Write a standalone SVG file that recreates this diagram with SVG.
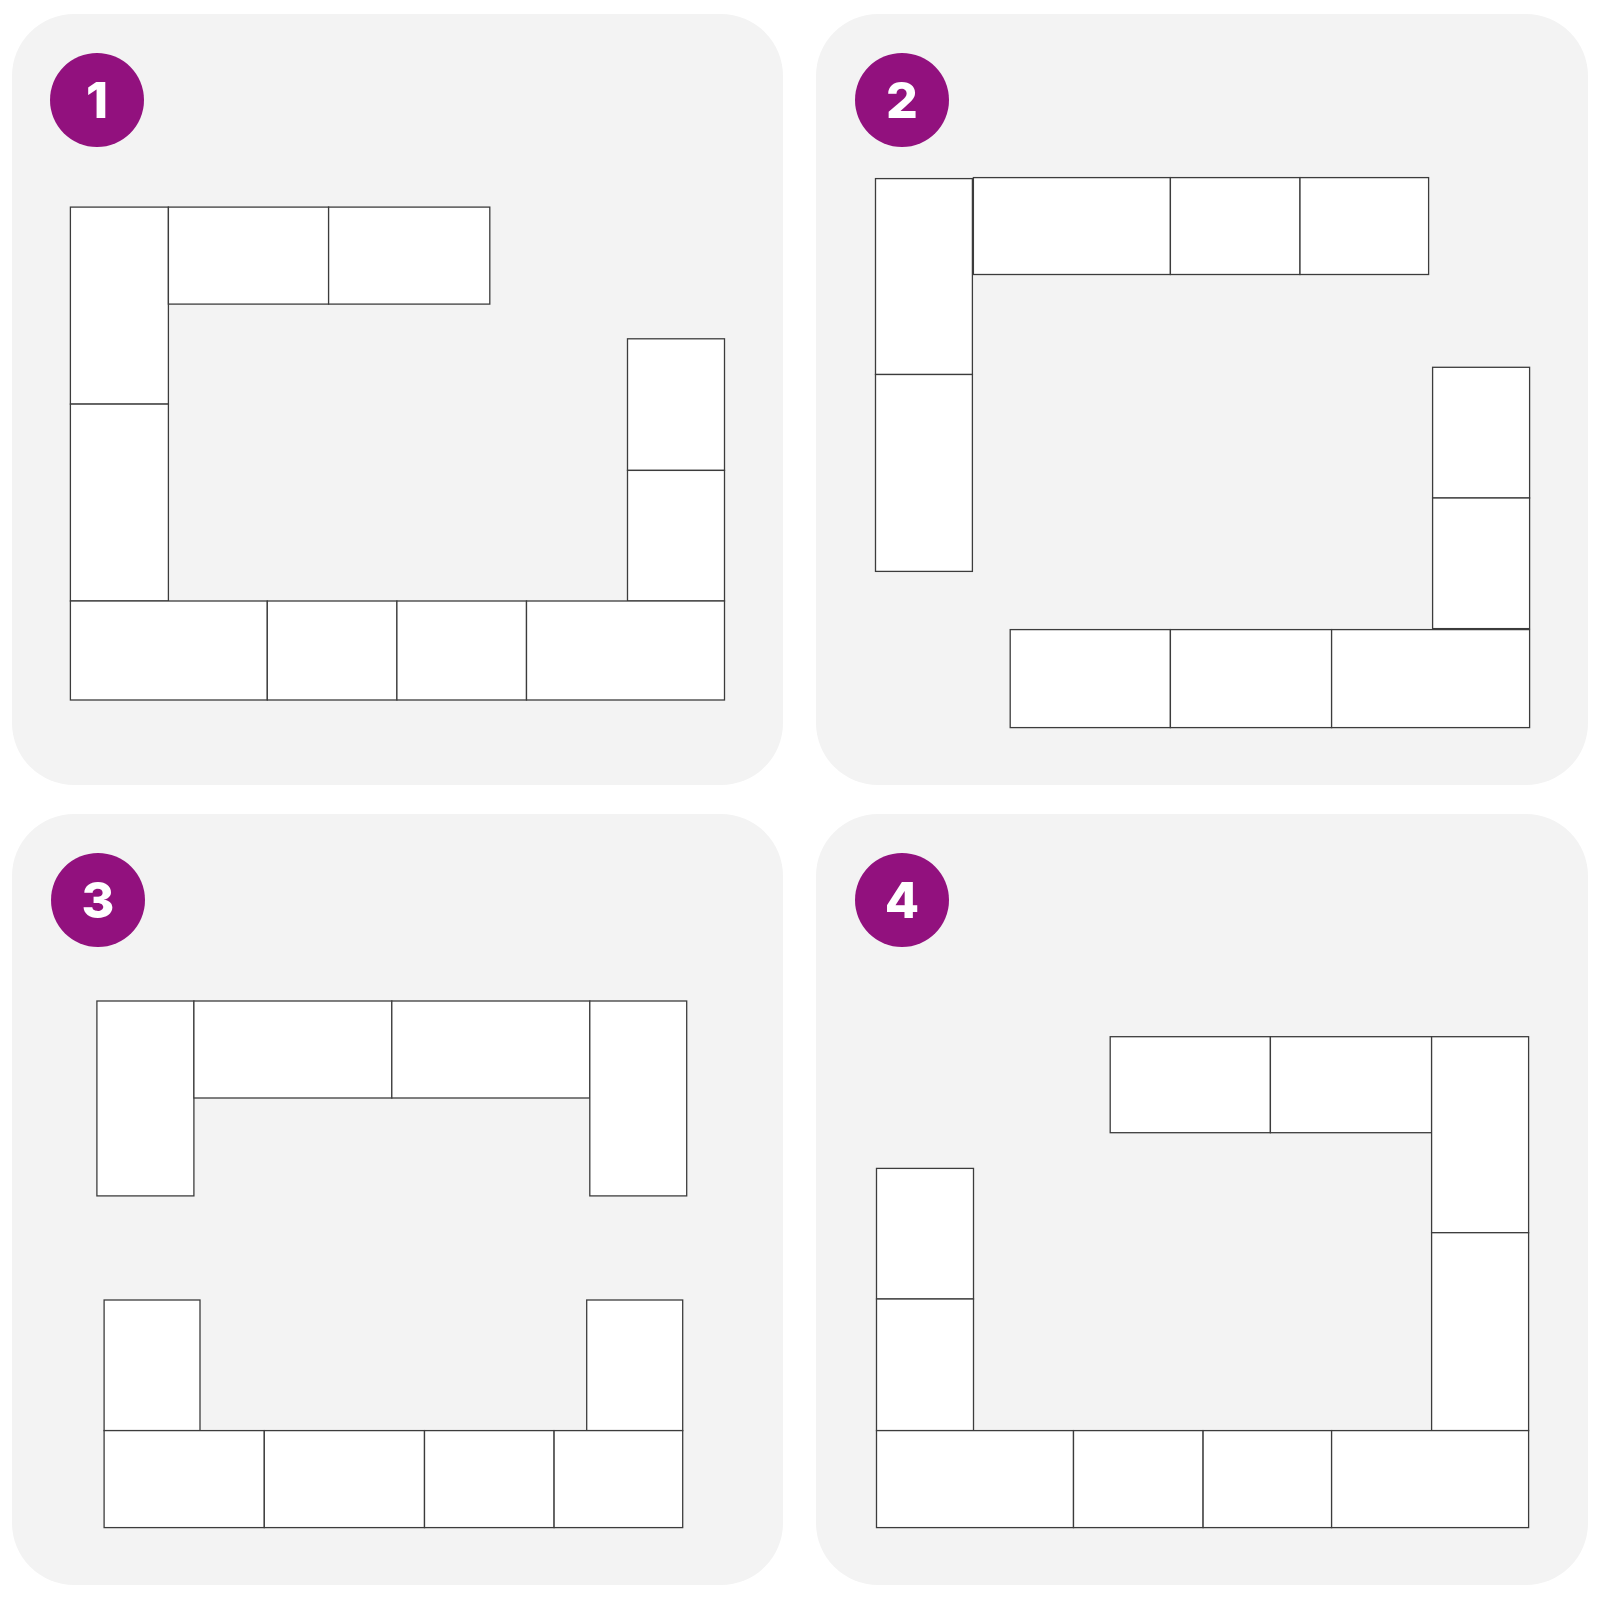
<svg xmlns="http://www.w3.org/2000/svg" width="1600" height="1600" viewBox="0 0 1600 1600">
<style>
.panel{fill:#f3f3f3}
.t{fill:#ffffff;stroke:#3c3c3c;stroke-width:1.3}
.badge{fill:#92117e}
.num{fill:#ffffff;font-family:Inter,Roboto,"Liberation Sans",sans-serif;font-weight:800;font-size:50px;text-anchor:middle}
</style>
<rect width="1600" height="1600" fill="#ffffff"/>
<g id="panel1">
<rect class="panel" x="12" y="14" width="771" height="771" rx="62"/>
<g id="badge1"><circle class="badge" cx="97" cy="100" r="47"/><text class="num" x="97" y="118">1</text></g>
<g id="p1-l1"><rect class="t" x="70.4" y="207.1" width="98" height="197"/></g>
<g id="p1-l2"><rect class="t" x="70.4" y="404.1" width="98" height="196.9"/></g>
<g id="p1-t1"><rect class="t" x="168.4" y="207.1" width="160.2" height="97"/></g>
<g id="p1-t2"><rect class="t" x="328.6" y="207.1" width="161.2" height="97"/></g>
<g id="p1-r1"><rect class="t" x="627.5" y="338.8" width="97" height="131.6"/></g>
<g id="p1-r2"><rect class="t" x="627.5" y="470.4" width="97" height="130.6"/></g>
<g id="p1-b1"><rect class="t" x="70.4" y="601" width="196.9" height="99"/></g>
<g id="p1-b2"><rect class="t" x="267.3" y="601" width="129.6" height="99"/></g>
<g id="p1-b3"><rect class="t" x="396.9" y="601" width="129.6" height="99"/></g>
<g id="p1-b4"><rect class="t" x="526.5" y="601" width="198" height="99"/></g>
</g>
<g id="panel2">
<rect class="panel" x="816" y="14" width="772" height="771" rx="62"/>
<g id="badge2"><circle class="badge" cx="902" cy="100" r="47"/><text class="num" x="902" y="118">2</text></g>
<g id="p2-l1"><rect class="t" x="875.5" y="178.6" width="96.9" height="195.9"/></g>
<g id="p2-l2"><rect class="t" x="875.5" y="374.5" width="96.9" height="196.9"/></g>
<g id="p2-t1"><rect class="t" x="973.4" y="177.6" width="197" height="96.9"/></g>
<g id="p2-t2"><rect class="t" x="1170.4" y="177.6" width="129.6" height="96.9"/></g>
<g id="p2-t3"><rect class="t" x="1300" y="177.6" width="128.6" height="96.9"/></g>
<g id="p2-r1"><rect class="t" x="1432.6" y="367.3" width="97" height="130.7"/></g>
<g id="p2-r2"><rect class="t" x="1432.6" y="498" width="97" height="130.6"/></g>
<g id="p2-b1"><rect class="t" x="1010.2" y="629.6" width="160.2" height="98"/></g>
<g id="p2-b2"><rect class="t" x="1170.4" y="629.6" width="161.2" height="98"/></g>
<g id="p2-b3"><rect class="t" x="1331.6" y="629.6" width="198" height="98"/></g>
</g>
<g id="panel3">
<rect class="panel" x="12" y="814" width="771" height="771" rx="62"/>
<g id="badge3"><circle class="badge" cx="98" cy="900" r="47"/><text class="num" x="98" y="918">3</text></g>
<g id="p3-l"><rect class="t" x="96.9" y="1001" width="97" height="194.9"/></g>
<g id="p3-t1"><rect class="t" x="193.9" y="1001" width="197.9" height="97"/></g>
<g id="p3-t2"><rect class="t" x="391.8" y="1001" width="198" height="97"/></g>
<g id="p3-r"><rect class="t" x="589.8" y="1001" width="96.9" height="194.9"/></g>
<g id="p3-bl"><rect class="t" x="104.1" y="1300" width="95.9" height="130.6"/></g>
<g id="p3-br"><rect class="t" x="586.7" y="1300" width="96" height="130.6"/></g>
<g id="p3-b1"><rect class="t" x="104.1" y="1430.6" width="160.2" height="97"/></g>
<g id="p3-b2"><rect class="t" x="264.3" y="1430.6" width="160.2" height="97"/></g>
<g id="p3-b3"><rect class="t" x="424.5" y="1430.6" width="129.6" height="97"/></g>
<g id="p3-b4"><rect class="t" x="554.1" y="1430.6" width="128.6" height="97"/></g>
</g>
<g id="panel4">
<rect class="panel" x="816" y="814" width="772" height="771" rx="62"/>
<g id="badge4"><circle class="badge" cx="902" cy="900" r="47"/><text class="num" x="902" y="918">4</text></g>
<g id="p4-t1"><rect class="t" x="1110.2" y="1036.7" width="160.2" height="96"/></g>
<g id="p4-t2"><rect class="t" x="1270.4" y="1036.7" width="161.2" height="96"/></g>
<g id="p4-r1"><rect class="t" x="1431.6" y="1036.7" width="97" height="196"/></g>
<g id="p4-r2"><rect class="t" x="1431.6" y="1232.7" width="97" height="197.9"/></g>
<g id="p4-l1"><rect class="t" x="876.5" y="1168.4" width="97" height="130.6"/></g>
<g id="p4-l2"><rect class="t" x="876.5" y="1299" width="97" height="131.6"/></g>
<g id="p4-b1"><rect class="t" x="876.5" y="1430.6" width="197" height="97"/></g>
<g id="p4-b2"><rect class="t" x="1073.5" y="1430.6" width="129.6" height="97"/></g>
<g id="p4-b3"><rect class="t" x="1203.1" y="1430.6" width="128.5" height="97"/></g>
<g id="p4-b4"><rect class="t" x="1331.6" y="1430.6" width="197" height="97"/></g>
</g>
</svg>
